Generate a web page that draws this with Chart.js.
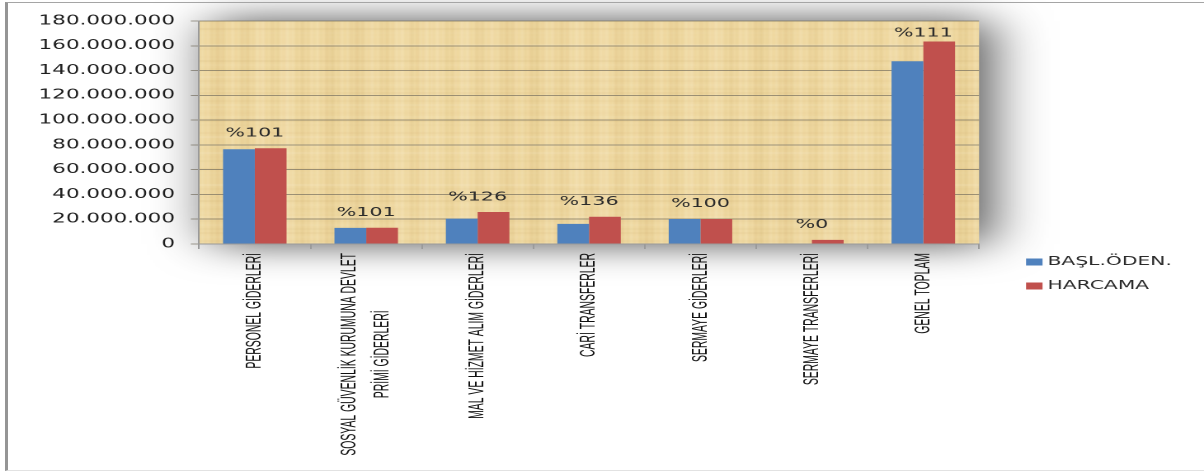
<!DOCTYPE html>
<html>
<head>
<meta charset="utf-8">
<script src="https://cdn.jsdelivr.net/npm/chart.js@4.4.1/dist/chart.umd.min.js"></script>
<style>
    html, body { margin: 0; padding: 0; background: #ffffff; overflow: hidden; }
    #wrap {
        position: absolute; left: 0; top: 0;
        width: 730px; height: 472px;
        transform: scaleX(1.6493); transform-origin: 0 0;
    }
    #frame {
        position: absolute; left: 5px; top: 2px;
        width: 1196px; height: 467px;
        border-left: 3px solid #959595;
        border-top: 1px solid #a5a5a5;
        border-right: 1px solid #bdbdbd;
        border-bottom: 1px solid #e2e2e2;
        pointer-events: none;
    }
</style>
</head>
<body>
<div id="wrap"><canvas id="giderChart" width="730" height="472"></canvas></div>
<div id="frame"></div>
<script>
// ================== DATA ==================
const categories = [
    "PERSONEL GİDERLERİ",
    ["SOSYAL GÜVENLİK KURUMUNA DEVLET", "PRİMİ GİDERLERİ"],
    "MAL VE HİZMET ALIM GİDERLERİ",
    "CARİ TRANSFERLER",
    "SERMAYE GİDERLERİ",
    "SERMAYE TRANSFERLERİ",
    "GENEL TOPLAM"
];
const baslOdenek = [76500000, 13000000, 20500000, 16200000, 20200000, 0, 147500000];
const harcama    = [77300000, 13100000, 25800000, 22000000, 20200000, 3300000, 163500000];
const oranlar    = ["%101", "%101", "%126", "%136", "%100", "%0", "%111"];

const yMax = 180000000;
const yStep = 20000000;

const BLUE = "#4f81bd";
const RED = "#c0504d";

function formatTL(v) {
    return String(v).replace(/\B(?=(\d{3})+(?!\d))/g, ".");
}

// papyrus-like paper for the plot area
function makePaper() {
    const c = document.createElement("canvas");
    c.width = 260; c.height = 140;
    const g = c.getContext("2d");
    g.fillStyle = "#efd8a0";
    g.fillRect(0, 0, c.width, c.height);
    for (let i = 0; i < c.width; i++) {
        const v = Math.sin(i * 0.37) * 0.5 + Math.sin(i * 1.71) * 0.3 + Math.sin(i * 0.083) * 0.2;
        g.fillStyle = v > 0 ? `rgba(255,247,222,${0.25 * v})` : `rgba(200,165,95,${-0.2 * v})`;
        g.fillRect(i, 0, 1, c.height);
    }
    for (let j = 0; j < c.height; j += 4) {
        const v = Math.sin(j * 0.61) * 0.6 + Math.sin(j * 0.19) * 0.4;
        g.fillStyle = v > 0 ? `rgba(255,250,230,${0.15 * v})` : `rgba(190,155,90,${-0.12 * v})`;
        g.fillRect(0, j, c.width, 2);
    }
    return c;
}

// ================== PLUGINS ==================
const plotBackground = {
    id: "plotBackground",
    beforeDraw(chart) {
        const { ctx, chartArea: a } = chart;
        if (!chart._paper) chart._paper = ctx.createPattern(makePaper(), "repeat");
        ctx.save();
        ctx.shadowColor = "rgba(0,0,0,0.7)";
        ctx.shadowBlur = 70;
        ctx.shadowOffsetX = 14;
        ctx.fillStyle = chart._paper;
        ctx.fillRect(a.left, a.top, a.width, a.height);
        ctx.restore();
    }
};

const ratioLabels = {
    id: "ratioLabels",
    afterDatasetsDraw(chart) {
        const { ctx, scales: { x, y }, chartArea: a } = chart;
        ctx.save();
        ctx.font = '12.5px "DejaVu Sans", sans-serif';
        ctx.fillStyle = "#2b2b2b";
        ctx.textAlign = "center";
        ctx.textBaseline = "middle";
        oranlar.forEach((txt, i) => {
            const top = y.getPixelForValue(Math.max(baslOdenek[i], harcama[i]));
            ctx.fillText(txt, x.getPixelForValue(i), Math.max(top - 15, a.top + 12));
        });
        ctx.restore();
    }
};

// category names, rotated and squeezed like a narrow font
const categoryLabels = {
    id: "categoryLabels",
    afterDraw(chart) {
        const { ctx, scales: { x }, chartArea: a } = chart;
        const squeeze = 0.8;
        ctx.save();
        ctx.font = '13px "Liberation Sans", Arial, sans-serif';
        ctx.fillStyle = "#111111";
        ctx.textAlign = "center";
        ctx.textBaseline = "middle";
        categories.forEach((lab, i) => {
            const lines = Array.isArray(lab) ? lab : [lab];
            const maxW = Math.max(...lines.map(l => ctx.measureText(l).width));
            ctx.save();
            ctx.translate(x.getPixelForValue(i), a.bottom + 9);
            ctx.rotate(-Math.PI / 2);
            ctx.scale(squeeze, 1);
            lines.forEach((l, j) => {
                ctx.fillText(l, -maxW / 2, (j - (lines.length - 1) / 2) * 20);
            });
            ctx.restore();
        });
        ctx.restore();
    }
};

const sideLegend = {
    id: "sideLegend",
    afterDraw(chart) {
        const { ctx, chartArea: a } = chart;
        ctx.save();
        ctx.font = '12.3px "DejaVu Sans", sans-serif';
        ctx.textBaseline = "middle";
        ctx.textAlign = "left";
        chart.data.datasets.forEach((ds, i) => {
            const lx = a.right + 28.5;
            const ly = a.bottom + 18 + i * 24;
            ctx.fillStyle = ds.backgroundColor;
            ctx.fillRect(lx, ly - 3.5, 10, 7);
            ctx.fillStyle = "#2b2b2b";
            ctx.fillText(ds.label, lx + 13, ly);
        });
        ctx.restore();
    }
};

// ================== CHART ==================
Chart.defaults.font.family = '"DejaVu Sans", sans-serif';

const ctx = document.getElementById("giderChart").getContext("2d");
new Chart(ctx, {
    type: "bar",
    data: {
        labels: categories,
        datasets: [
            { label: "BAŞL.ÖDEN.", data: baslOdenek, backgroundColor: BLUE },
            { label: "HARCAMA", data: harcama, backgroundColor: RED }
        ]
    },
    options: {
        responsive: false,
        devicePixelRatio: 2,
        animation: false,
        categoryPercentage: 0.57,
        barPercentage: 1.0,
        layout: {
            padding: { top: 21, right: 136.4, bottom: 0, left: 0 }
        },
        plugins: {
            legend: { display: false },
            tooltip: { enabled: false }
        },
        scales: {
            x: {
                ticks: { display: false },
                grid: { drawOnChartArea: false, tickLength: 5, color: "#9a9a9a", offset: true },
                border: { color: "#9a9a9a" },
                afterFit: s => { s.height = 228; }
            },
            y: {
                min: 0,
                max: yMax,
                ticks: {
                    stepSize: yStep,
                    padding: 9.6,
                    color: "#1e1e1e",
                    font: { size: 13 },
                    callback: v => formatTL(v)
                },
                grid: { color: "rgba(110,105,90,0.65)", tickLength: 5 },
                border: { color: "#9a9a9a" },
                afterFit: s => { s.width = 120.7; }
            }
        }
    },
    plugins: [plotBackground, ratioLabels, categoryLabels, sideLegend]
});
</script>
</body>
</html>
